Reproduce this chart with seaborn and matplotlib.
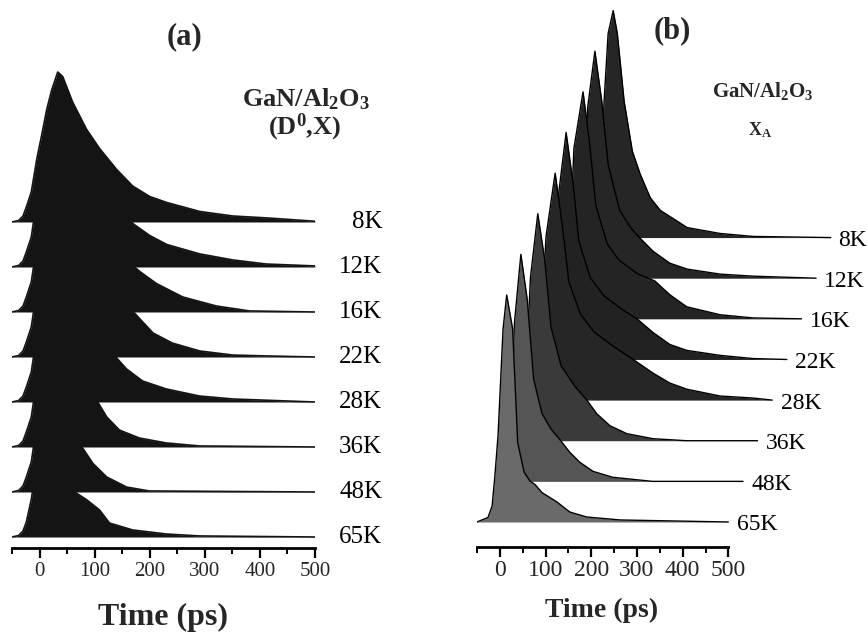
"""
plot.py
Stacked time-resolved PL decay curves of GaN/Al2O3 at several
temperatures: (a) donor-bound exciton (D0,X), (b) free exciton X_A.
"""

import matplotlib
matplotlib.use("Agg")
import matplotlib.pyplot as plt
import matplotlib.ticker as mticker
import seaborn as sns
import numpy as np

# -------------------------------------------------------
# Data (time in ps, intensity normalised to peak = 1)
# -------------------------------------------------------
TEMPS = ["8K", "12K", "16K", "22K", "28K", "36K", "48K", "65K"]
X_TICKS = [0, 100, 200, 300, 400, 500]

# panel (a): (D0,X)
a_8K_t = [-50, -38, -30, -24, -15, -5, 5, 13, 22, 33, 42, 60, 85, 109, 140, 169, 200, 231, 291, 351, 413, 500]
a_8K_i = [0, 0.01, 0.04, 0.10, 0.20, 0.42, 0.60, 0.75, 0.88, 1.0, 0.97, 0.80, 0.62, 0.49, 0.35, 0.24, 0.17, 0.13, 0.07, 0.04, 0.027, 0.005]
a_12K_t = [-50, -38, -30, -24, -15, -5, 10, 25, 40, 60, 85, 110, 140, 173, 200, 231, 291, 351, 411, 500]
a_12K_i = [0, 0.01, 0.04, 0.10, 0.20, 0.45, 0.80, 0.98, 1.0, 0.85, 0.65, 0.50, 0.38, 0.28, 0.21, 0.15, 0.087, 0.047, 0.02, 0.007]
a_16K_t = [-50, -38, -30, -24, -15, -5, 10, 25, 40, 60, 85, 110, 140, 182, 212, 260, 321, 381, 500]
a_16K_i = [0, 0.01, 0.04, 0.10, 0.20, 0.45, 0.80, 0.98, 1.0, 0.85, 0.65, 0.52, 0.40, 0.27, 0.19, 0.10, 0.04, 0.007, 0]
a_22K_t = [-50, -38, -30, -24, -15, -5, 10, 25, 40, 60, 85, 110, 140, 168, 206, 241, 291, 351, 412, 500]
a_22K_i = [0, 0.01, 0.04, 0.10, 0.20, 0.45, 0.80, 0.98, 1.0, 0.85, 0.66, 0.52, 0.40, 0.31, 0.16, 0.093, 0.04, 0.013, 0.007, 0]
a_28K_t = [-50, -38, -30, -24, -15, -5, 10, 25, 40, 60, 85, 110, 136, 158, 187, 230, 290, 351, 500]
a_28K_i = [0, 0.01, 0.04, 0.10, 0.20, 0.45, 0.80, 0.98, 1.0, 0.82, 0.60, 0.44, 0.31, 0.22, 0.14, 0.087, 0.04, 0.02, 0]
a_36K_t = [-50, -38, -30, -24, -15, -5, 10, 25, 40, 60, 80, 104, 122, 145, 181, 230, 290, 500]
a_36K_i = [0, 0.01, 0.04, 0.10, 0.20, 0.45, 0.80, 0.98, 1.0, 0.78, 0.52, 0.31, 0.20, 0.113, 0.06, 0.027, 0.007, 0]
a_48K_t = [-50, -38, -30, -24, -15, -5, 10, 25, 40, 60, 77, 97, 122, 158, 199, 500]
a_48K_i = [0, 0.01, 0.04, 0.10, 0.20, 0.45, 0.80, 0.98, 1.0, 0.60, 0.30, 0.19, 0.10, 0.033, 0.007, 0]
a_65K_t = [-50, -38, -30, -24, -15, -5, 10, 25, 40, 52, 64, 86, 109, 127, 169, 230, 290, 500]
a_65K_i = [0, 0.01, 0.04, 0.10, 0.25, 0.50, 0.85, 1.0, 0.80, 0.50, 0.30, 0.247, 0.18, 0.093, 0.047, 0.02, 0.007, 0]

# panel (b): X_A
b_8K_t = [-20, -10, 0, 4, 13, 24, 33, 48, 66, 83, 105, 127, 186, 258, 330, 500]
b_8K_i = [0, 0.15, 0.38, 0.60, 0.90, 1.0, 0.90, 0.60, 0.38, 0.28, 0.176, 0.12, 0.044, 0.018, 0.005, 0]
b_12K_t = [-20, -10, 0, 16, 31, 45, 70, 95, 115, 143, 180, 218, 290, 362, 500]
b_12K_i = [0, 0.15, 0.75, 1.0, 0.78, 0.50, 0.30, 0.22, 0.176, 0.119, 0.066, 0.04, 0.018, 0.009, 0]
b_16K_t = [-20, -10, 2, 22, 36, 50, 75, 100, 140, 179, 212, 249, 322, 394, 500]
b_16K_i = [0, 0.15, 0.75, 1.0, 0.78, 0.50, 0.33, 0.26, 0.20, 0.167, 0.106, 0.053, 0.018, 0.004, 0]
b_22K_t = [-20, -10, 0, 17, 32, 45, 70, 100, 140, 174, 207, 244, 281, 354, 426, 500]
b_22K_i = [0, 0.15, 0.72, 1.0, 0.78, 0.52, 0.36, 0.28, 0.22, 0.176, 0.119, 0.066, 0.04, 0.018, 0.004, 0]
b_28K_t = [-20, -10, 5, 25, 40, 55, 80, 110, 150, 195, 239, 276, 313, 386, 458, 500]
b_28K_i = [0, 0.15, 0.72, 1.0, 0.78, 0.52, 0.38, 0.30, 0.24, 0.18, 0.119, 0.075, 0.048, 0.018, 0.009, 0]
b_36K_t = [-20, -10, 3, 19, 34, 48, 70, 100, 126, 148, 177, 214, 271, 345, 500]
b_36K_i = [0, 0.15, 0.72, 1.0, 0.80, 0.50, 0.33, 0.24, 0.18, 0.119, 0.066, 0.031, 0.009, 0, 0]
b_48K_t = [-20, -10, 0, 14, 28, 42, 60, 80, 99, 121, 143, 172, 215, 302, 500]
b_48K_i = [0, 0.15, 0.70, 1.0, 0.80, 0.45, 0.30, 0.23, 0.185, 0.128, 0.084, 0.044, 0.018, 0, 0]
b_65K_t = [-50, -26, -17, -11, -4, 7, 15, 28, 39, 53, 66, 77, 92, 125, 153, 190, 263, 500]
b_65K_i = [0, 0.02, 0.07, 0.20, 0.38, 0.85, 1.0, 0.85, 0.35, 0.22, 0.18, 0.165, 0.13, 0.088, 0.044, 0.022, 0.009, 0]

A_TRACES = [(a_8K_t, a_8K_i), (a_12K_t, a_12K_i), (a_16K_t, a_16K_i), (a_22K_t, a_22K_i),
            (a_28K_t, a_28K_i), (a_36K_t, a_36K_i), (a_48K_t, a_48K_i), (a_65K_t, a_65K_i)]
B_TRACES = [(b_8K_t, b_8K_i), (b_12K_t, b_12K_i), (b_16K_t, b_16K_i), (b_22K_t, b_22K_i),
            (b_28K_t, b_28K_i), (b_36K_t, b_36K_i), (b_48K_t, b_48K_i), (b_65K_t, b_65K_i)]

# waterfall offsets (vertical in intensity units, horizontal in ps)
A_STEP_Y, A_STEP_X = 0.30, 0
B_STEP_Y, B_STEP_X = 0.179, 32

A_FILLS = ["#141414"] * 8
B_FILLS = ["#262626", "#262626", "#242424", "#222222", "#262626", "#3a3a3a", "#555555", "#6a6a6a"]

# -------------------------------------------------------
# Style
# -------------------------------------------------------
sns.set_theme(style="white")
plt.rcParams.update({
    "font.family": ["Liberation Serif", "DejaVu Serif"],
    "mathtext.default": "regular",
    "figure.facecolor": "white",
    "axes.facecolor": "none",
})

W, H = 867, 636
fig = plt.figure(figsize=(W / 100, H / 100), dpi=100)


def px(x, y):
    return x / W, 1 - y / H


def draw_stack(ax, traces, step_y, step_x, fills, lw, edge=None):
    n = len(traces)
    for k, ((t, i), fc) in enumerate(zip(traces, fills)):
        level = n - 1 - k            # 8K on top, 65K at the bottom
        base = level * step_y
        shift = level * step_x
        x = np.asarray(t, float) + shift
        y = np.asarray(i, float) + base
        ax.fill_between(x, base, y, color=fc, lw=0, zorder=2 + 2 * k)
        sns.lineplot(x=x, y=y, ax=ax, color=edge or fc, lw=lw, sort=False,
                     estimator=None, zorder=3 + 2 * k, legend=False)


def style_axis(ax, xmax, labelsize, pad):
    for s in ["top", "right", "left"]:
        ax.spines[s].set_visible(False)
    ax.spines["bottom"].set_linewidth(2.0)
    ax.spines["bottom"].set_color("black")
    ax.spines["bottom"].set_bounds(-50, 500)
    ax.set_xlim(-50, xmax)
    ax.set_yticks([])
    ax.set_xticks(X_TICKS)
    ax.xaxis.set_minor_locator(mticker.FixedLocator([-50, 50, 150, 250, 350, 450]))
    ax.tick_params(axis="x", which="major", direction="out", length=7, width=1.6,
                   color="black", labelsize=labelsize, pad=pad, bottom=True)
    ax.tick_params(axis="x", which="minor", direction="out", length=4, width=1.4,
                   color="black", bottom=True)
    ax.set_xlabel("")
    ax.set_ylabel("")


# ============================================================
# Panel (a)
# ============================================================
a_unit = 150.0                     # px per intensity unit
a_ylo, a_yhi = -11 / a_unit, 3.2
ax_a = fig.add_axes([12 / W, (H - 548) / H, 303 / W, (a_yhi - a_ylo) * a_unit / H])
draw_stack(ax_a, A_TRACES, A_STEP_Y, A_STEP_X, A_FILLS, lw=1.2)
ax_a.set_ylim(a_ylo, a_yhi)
style_axis(ax_a, 500, 15, 3)

for k, lab in enumerate(TEMPS):
    base = (len(TEMPS) - 1 - k) * A_STEP_Y
    ax_a.text(622, base, lab, ha="right", va="center", fontsize=18, color="black")

# ============================================================
# Panel (b)
# ============================================================
b_unit = 227.0
b_ylo, b_yhi = -25 / b_unit, 2.29
b_xmax = 780
ax_b = fig.add_axes([477 / W, (H - 547) / H, (b_xmax + 50) * 0.457 / W,
                     (b_yhi - b_ylo) * b_unit / H])
draw_stack(ax_b, B_TRACES, B_STEP_Y, B_STEP_X, B_FILLS, lw=1.0, edge="black")
ax_b.set_ylim(b_ylo, b_yhi)
style_axis(ax_b, b_xmax, 17, 2)

for k, lab in enumerate(TEMPS):
    level = len(TEMPS) - 1 - k
    ax_b.text(520 + level * 31.5, level * B_STEP_Y - 0.013, lab,
              ha="left", va="center", fontsize=17, color="black")

# -------------------------------------------------------
# Titles and annotations
# -------------------------------------------------------
fig.text(*px(185, 37), "(a)", ha="center", va="center", fontsize=22, fontweight="bold")
fig.text(*px(672, 31), "(b)", ha="center", va="center", fontsize=22, fontweight="bold")
fig.text(*px(306, 99), "GaN/Al$_2$O$_3$", ha="center", va="center", fontsize=19, fontweight="bold")
fig.text(*px(305, 127), "(D$^0$,X)", ha="center", va="center", fontsize=19, fontweight="bold")
fig.text(*px(763, 91), "GaN/Al$_2$O$_3$", ha="center", va="center", fontsize=15, fontweight="bold")
fig.text(*px(760, 130), "X$_A$", ha="center", va="center", fontsize=13, fontweight="bold")
fig.text(*px(163, 617), "Time (ps)", ha="center", va="center", fontsize=23, fontweight="bold")
fig.text(*px(602, 610), "Time (ps)", ha="center", va="center", fontsize=20, fontweight="bold")

fig.savefig("out.png", dpi=100)
plt.close(fig)
